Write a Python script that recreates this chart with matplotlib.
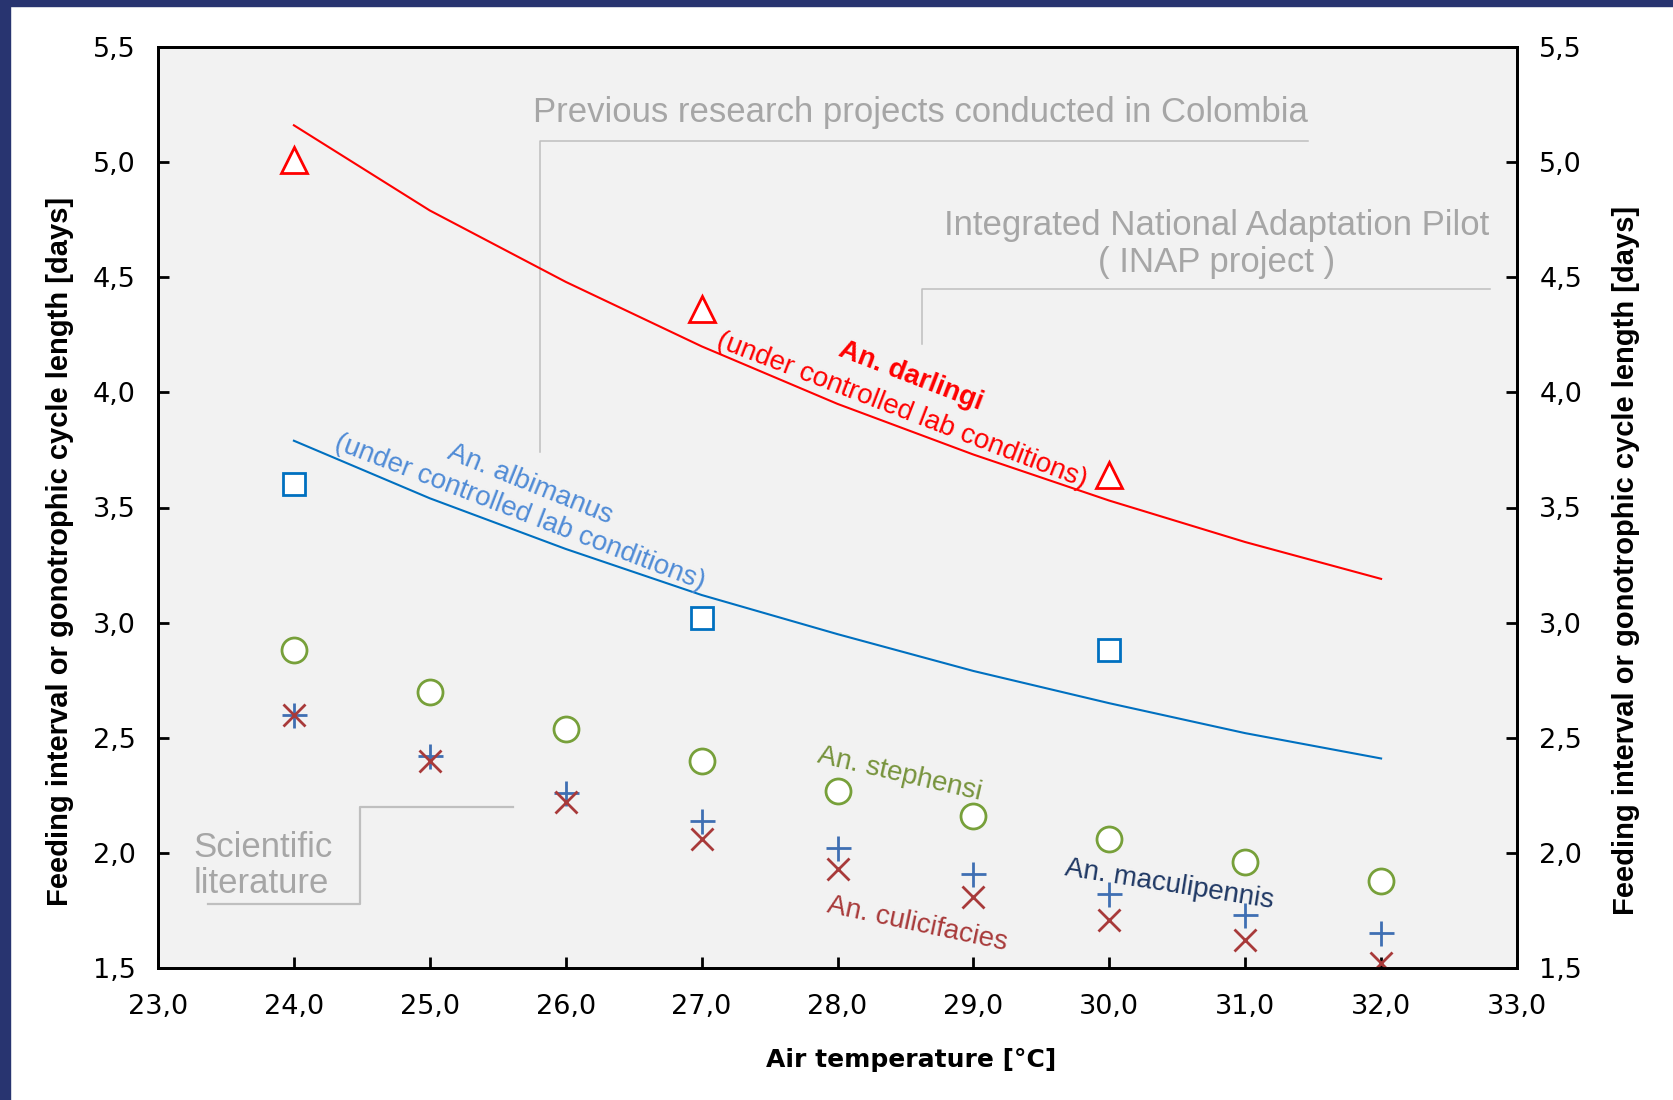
import matplotlib

matplotlib.use("Agg")
import matplotlib.pyplot as plt
from matplotlib.patches import Rectangle
from matplotlib.ticker import FuncFormatter, MultipleLocator

# Lab-condition model curves (feeding interval vs. air temperature)
temp_curve = [24, 25, 26, 27, 28, 29, 30, 31, 32]
darlingi_curve = [5.16, 4.79, 4.48, 4.20, 3.95, 3.73, 3.53, 3.35, 3.19]
albimanus_curve = [3.79, 3.54, 3.32, 3.12, 2.95, 2.79, 2.65, 2.52, 2.41]

# Colombian field observations (INAP project)
temp_obs = [24, 27, 30]
darlingi_obs = [5.01, 4.36, 3.64]
albimanus_obs = [3.60, 3.02, 2.88]

# Values from the scientific literature
temp_lit = [24, 25, 26, 27, 28, 29, 30, 31, 32]
stephensi = [2.88, 2.70, 2.54, 2.40, 2.27, 2.16, 2.06, 1.96, 1.88]
maculipennis = [2.60, 2.42, 2.26, 2.14, 2.02, 1.91, 1.82, 1.73, 1.65]
culicifacies = [2.60, 2.40, 2.22, 2.06, 1.93, 1.81, 1.71, 1.62, 1.52]

RED = "#ff0000"
BLUE = "#0070c0"
BLUE_TXT = "#4f8bd6"
GREEN = "#77a03a"
GREEN_TXT = "#77933c"
PLUS = "#3f6fb3"
CROSS = "#a83a3a"
NAVY_TXT = "#1f3864"
GREY_TXT = "#a6a6a6"
GREY_LN = "#bfbfbf"

ARIAL = ["Liberation Sans", "DejaVu Sans"]

fig = plt.figure(figsize=(16.73, 11), dpi=100)
fig.patches.append(Rectangle((0, 0), 10 / 1673, 1, transform=fig.transFigure,
                             color="#283470", zorder=0))
fig.patches.append(Rectangle((0, 1 - 6 / 1100), 1, 6 / 1100, transform=fig.transFigure,
                             color="#283470", zorder=0))

ax = fig.add_axes([158 / 1673, 132 / 1100, 1359 / 1673, 921 / 1100])
ax.set_facecolor("#f2f2f2")

ax.plot(temp_curve, darlingi_curve, color=RED, lw=1.5, zorder=3)
ax.plot(temp_curve, albimanus_curve, color=BLUE, lw=1.5, zorder=3)

ax.plot(temp_obs, darlingi_obs, ls="none", marker="^", ms=19, mfc="white",
        mec=RED, mew=2, zorder=4)
ax.plot(temp_obs, albimanus_obs, ls="none", marker="s", ms=16, mfc="white",
        mec=BLUE, mew=2, zorder=4)
ax.plot(temp_lit, stephensi, ls="none", marker="o", ms=18, mfc="white",
        mec=GREEN, mew=2, zorder=4)
ax.plot(temp_lit, maculipennis, ls="none", marker="+", ms=18, mec=PLUS,
        mew=2, zorder=4)
ax.plot(temp_lit, culicifacies, ls="none", marker="x", ms=16, mec=CROSS,
        mew=2, zorder=5)

# grey brackets marking where each group of data comes from
ax.plot([25.81, 25.81, 31.46], [3.74, 5.09, 5.09], color=GREY_LN, lw=1.1, zorder=2)
ax.plot([28.62, 28.62, 32.80], [4.21, 4.45, 4.45], color=GREY_LN, lw=1.1, zorder=2)
ax.plot([23.37, 24.49, 24.49, 25.61], [1.78, 1.78, 2.20, 2.20], color=GREY_LN,
        lw=1.6, zorder=2)

ax.text(28.61, 5.215, "Previous research projects conducted in Colombia", ha="center",
        va="center", fontsize=25, color=GREY_TXT, family=ARIAL)
ax.text(30.79, 4.645, "Integrated National Adaptation Pilot\n( INAP project )",
        ha="center", va="center", fontsize=25, color=GREY_TXT, family=ARIAL,
        linespacing=1.15)
ax.text(23.26, 1.945, "Scientific\nliterature", ha="left", va="center", fontsize=25,
        color=GREY_TXT, family=ARIAL, linespacing=1.15)

# species labels along the curves
ax.text(28.54, 4.07, "An. darlingi", rotation=-21, ha="center", va="center",
        fontsize=20, fontweight="bold", color=RED, family=ARIAL)
ax.text(28.47, 3.92, "(under controlled lab conditions)", rotation=-21, ha="center",
        va="center", fontsize=20, color=RED, family=ARIAL)
ax.text(25.74, 3.60, "An. albimanus", rotation=-22, ha="center", va="center",
        fontsize=20, color=BLUE_TXT, family=ARIAL)
ax.text(25.66, 3.48, "(under controlled lab conditions)", rotation=-21, ha="center",
        va="center", fontsize=20, color=BLUE_TXT, family=ARIAL)
ax.text(28.46, 2.34, "An. stephensi", rotation=-13, ha="center", va="center",
        fontsize=20, color=GREEN_TXT, family=ARIAL)
ax.text(30.44, 1.86, "An. maculipennis", rotation=-9, ha="center", va="center",
        fontsize=20, color=NAVY_TXT, family=ARIAL)
ax.text(28.59, 1.69, "An. culicifacies", rotation=-12, ha="center", va="center",
        fontsize=20, color=CROSS, family=ARIAL)

comma = FuncFormatter(lambda v, _: f"{v:.1f}".replace(".", ","))

ax.set_xlim(23, 33)
ax.set_ylim(1.5, 5.5)
ax.xaxis.set_major_locator(MultipleLocator(1))
ax.yaxis.set_major_locator(MultipleLocator(0.5))
ax.xaxis.set_major_formatter(comma)
ax.yaxis.set_major_formatter(comma)

ax2 = ax.twinx()
ax2.set_ylim(1.5, 5.5)
ax2.yaxis.set_major_locator(MultipleLocator(0.5))
ax2.yaxis.set_major_formatter(comma)

for a in (ax, ax2):
    for sp in a.spines.values():
        sp.set_linewidth(2)
    a.tick_params(direction="in", length=8, width=2, labelsize=19.5, pad=16)
ax.tick_params(axis="x", pad=19)
ax.tick_params(top=False)

ylabel = "Feeding interval or gonotrophic cycle length [days]"
ax.set_ylabel(ylabel, fontsize=21, fontweight="bold", family=ARIAL)
ax.yaxis.set_label_coords(-84 / 1359, 0.452)
ax2.set_ylabel(ylabel, fontsize=21, fontweight="bold", family=ARIAL, rotation=90)
ax2.yaxis.set_label_coords(1 + 95 / 1359, 0.442)
ax.set_xlabel("Air temperature [°C]", fontsize=18, fontweight="bold")
ax.xaxis.set_label_coords(0.554, -0.087)

fig.savefig("out.png", dpi=100)
plt.close(fig)
